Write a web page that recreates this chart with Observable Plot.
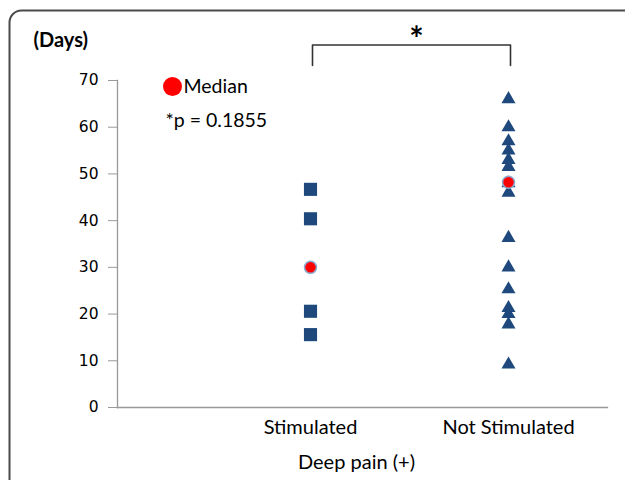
<!DOCTYPE html>
<html>
<head>
<meta charset="utf-8">
<script src="https://cdn.jsdelivr.net/npm/d3@7"></script>
<script src="https://cdn.jsdelivr.net/npm/@observablehq/plot@0.6"></script>
<style>
  html, body { margin: 0; padding: 0; background: #fff; }
</style>
</head>
<body>
<div id="chart"></div>
<script>
// ---- data ----
const groups = ["Stimulated", "Not Stimulated"];
const stimulatedDays = [46.7, 40.4, 20.6, 15.6];
const notStimulatedDays = [66, 60, 57, 55, 53, 51.5, 48, 46, 36.3, 30, 25.3, 21.3, 20, 17.8, 9.2];
const medians = [30.0, 48.2];
const yTicks = [0, 10, 20, 30, 40, 50, 60, 70];
const yLabel = "(Days)";
const xLabel = "Deep pain (+)";
const legendLabel = "Median";
const pLabel = "*p = 0.1855";
const sigMark = "*";
const bracketLegLow = 73.2;
const bracketTop = 77.6;

// ---- tables built from data ----
const squares = stimulatedDays.map(v => ({group: groups[0], days: v}));
const triangles = notStimulatedDays.map(v => ({group: groups[1], days: v}));
const medianPts = medians.map((v, i) => ({group: groups[i], days: v}));
const bracket = [
  {group: groups[0], days: bracketLegLow},
  {group: groups[0], days: bracketTop},
  {group: groups[1], days: bracketTop},
  {group: groups[1], days: bracketLegLow}
];

const blue = "#1F497D";
const calibri = "Lato, 'Open Sans', sans-serif";

const chart = Plot.plot({
  width: 625,
  height: 480,
  marginLeft: 117,
  marginRight: 18,
  marginTop: 80,
  marginBottom: 73,
  style: {background: "#fff", fontFamily: calibri, color: "#000"},
  x: {type: "point", domain: groups, range: [310, 508], padding: 0},
  y: {domain: [0, 70]},
  marks: [
    // outer rounded frame
    Plot.frame({rx: 12, stroke: "#4a4a4a", strokeWidth: 2,
      insetLeft: -108, insetTop: -70, insetRight: -40, insetBottom: -90}),
    // axis lines
    Plot.frame({anchor: "left", stroke: "#999", strokeWidth: 1.3}),
    Plot.frame({anchor: "bottom", stroke: "#999", strokeWidth: 1.3}),
    Plot.axisY({ticks: yTicks, tickSize: 9, tickPadding: 10, stroke: "#999",
      fontSize: 15.5, fontFamily: "DejaVu Sans", label: null}),
    Plot.axisX({tickSize: 0, tickPadding: 12, fontSize: 20, label: null}),
    // data points
    Plot.dot(squares, {x: "group", y: "days", symbol: "square", r: 7.4, fill: blue, stroke: null}),
    Plot.dot(triangles, {x: "group", y: "days", symbol: "triangle", r: 5.2, fill: blue, stroke: null}),
    Plot.dot(medianPts, {x: "group", y: "days", symbol: "circle", r: 6, fill: "#FF0000",
      stroke: "#8DA9CF", strokeWidth: 1.5}),
    // significance bracket
    Plot.line(bracket, {x: "group", y: "days", stroke: "#333", strokeWidth: 1.6, dx: 2}),
    Plot.text([sigMark], {text: d => d, frameAnchor: "top", dx: 54, dy: -30,
      lineAnchor: "bottom", fontSize: 34, fontWeight: "bold"}),
    // legend & annotations
    Plot.dot([legendLabel], {frameAnchor: "top-left", dx: 55, dy: 6, r: 9.5, fill: "#FF0000", stroke: null}),
    Plot.text([legendLabel], {text: d => d, frameAnchor: "top-left", dx: 66, dy: 12,
      lineAnchor: "bottom", textAnchor: "start", fontSize: 19.5}),
    Plot.text([pLabel], {text: d => d, frameAnchor: "top-left", dx: 48, dy: 46,
      lineAnchor: "bottom", textAnchor: "start", fontSize: 19.5}),
    Plot.text([yLabel], {text: d => d, frameAnchor: "top-left", dx: -84, dy: -34,
      lineAnchor: "bottom", textAnchor: "start", fontSize: 20, fontWeight: "bold"}),
    Plot.text([xLabel], {text: d => d, frameAnchor: "bottom", dx: -6, dy: 61,
      lineAnchor: "bottom", fontSize: 20})
  ]
});
document.getElementById("chart").appendChild(chart);
</script>
</body>
</html>
